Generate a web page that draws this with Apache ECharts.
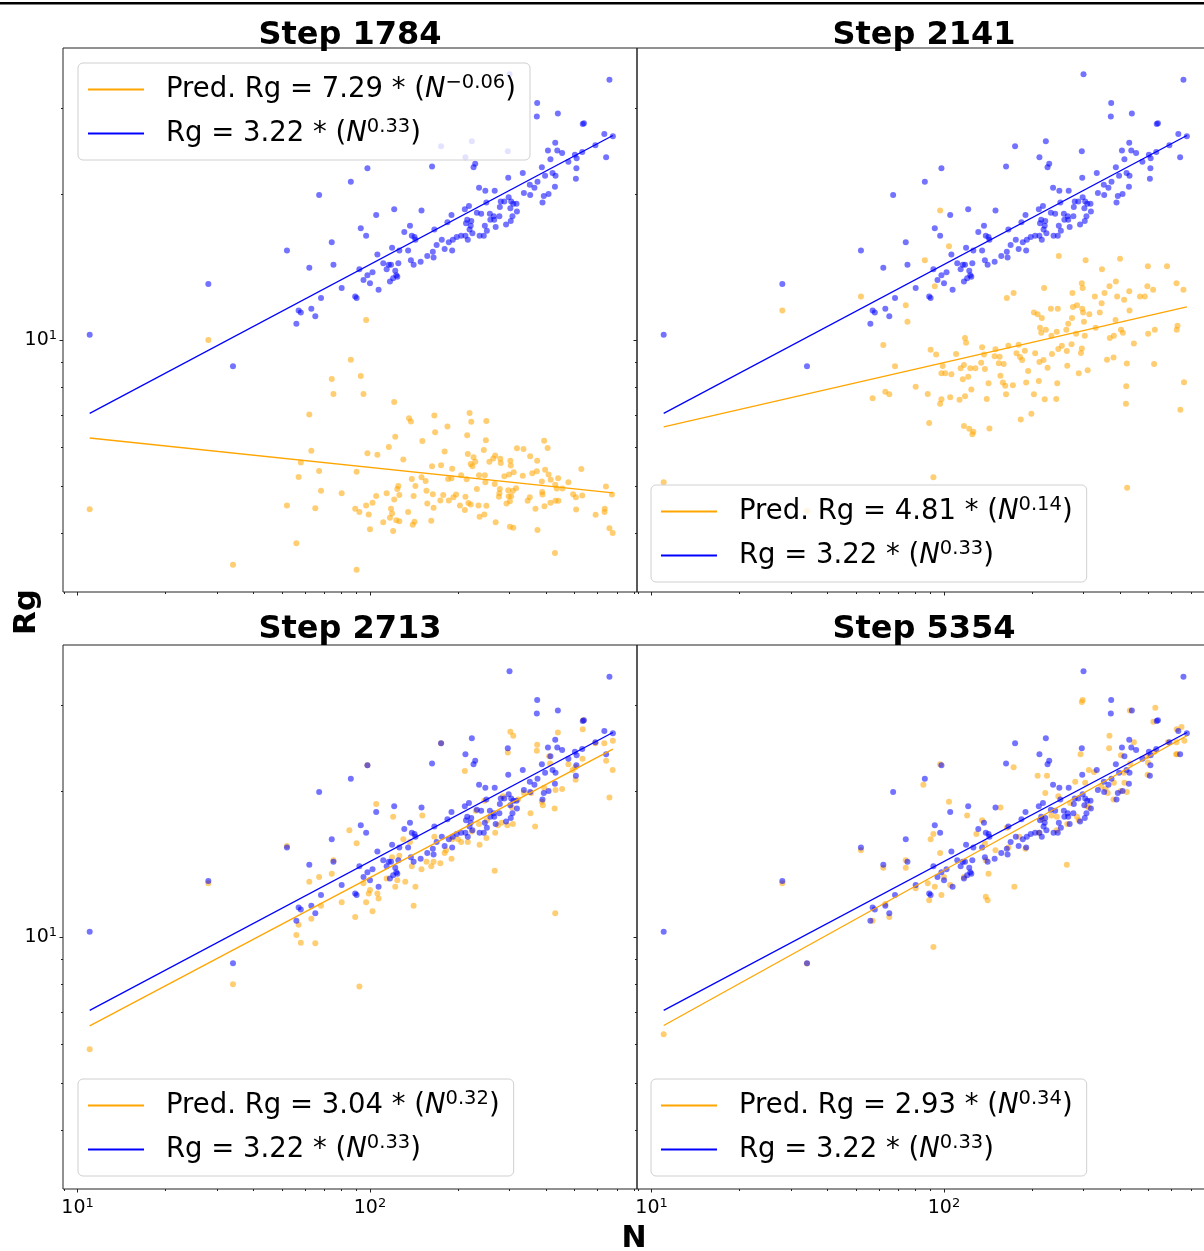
<!DOCTYPE html>
<html><head><meta charset="utf-8">
<script src="https://cdn.jsdelivr.net/npm/echarts/dist/echarts.min.js"></script>
<style>html,body{margin:0;padding:0;background:#fff;}#c{width:1204px;height:1251px;}</style>
</head><body><div id="c"></div>
<script>
// ---------- data (N, Rg) ----------
const panelTitles = ['Step 1784', 'Step 2141', 'Step 2713', 'Step 5354'];
const predCoef = ['7.29', '4.81', '3.04', '2.93'];
const predExp = ['\u22120.06', '0.14', '0.32', '0.34'];
const trueCoef = '3.22';
const trueExp = '0.33';
const xMajorTicks = [10, 100];
const xMinorTicks = [9, 20, 30, 40, 50, 60, 70, 80, 90, 200, 300, 400, 500, 600, 700, 800];
const yMajorTicks = [10];
const yMinorTicks = [4, 5, 6, 7, 8, 9, 20, 30];

const rgTrue = [[659,34.4],[300,35.3],[373,30.8],[372,28.9],[439,29.3],[534,27.9],[539,28.0],[633,26.6],[677,26.3],[590,25.2],[642,23.8],[430,25.5],[406,24.6],[437,24.6],[454,24.3],[502,24.1],[532,24.4],[477,23.3],[509,23.7],[508,22.6],[506,21.5],[387,22.7],[414,23.6],[421,22.1],[397,21.8],[431,21.8],[429,20.7],[374,21.2],[352,20.9],[365,20.6],[408,20.0],[393,19.8],[389,19.2],[353,19.9],[336,20.1],[333,22.1],[297,21.6],[296,24.5],[223,25.7],[212,23.8],[175,25.1],[229,23.1],[226,22.7],[163,22.8],[98,22.6],[86,21.2],[67,19.9],[52,15.3],[62,14.1],[74,15.9],[75,14.3],[93,17.0],[97,16.4],[105,18.1],[121,18.6],[150,18.5],[236,20.6],[248,20.3],[267,20.3],[298,19.7],[280,19.3],[288,19.3],[278,18.8],[304,19.3],[309,19.1],[317,19.1],[302,18.7],[318,18.4],[307,18.0],[303,17.6],[292,17.3],[277,18.0],[266,17.7],[250,19.2],[218,18.9],[232,18.3],[240,18.2],[257,18.2],[265,18.0],[258,17.7],[247,17.2],[251,16.8],[237,16.4],[245,16.4],[269,17.1],[222,17.6],[215,17.7],[213,17.4],[221,17.2],[219,16.9],[224,16.6],[212,16.4],[216,16.1],[205,16.4],[198,16.3],[192,16.1],[186,15.9],[176,16.1],[180,15.4],[191,15.3],[169,15.7],[166,16.9],[190,18.1],[184,17.5],[211,18.6],[139,16.4],[142,16.3],[143,16.1],[131,16.7],[137,17.2],[119,15.5],[126,15.3],[135,15.3],[138,14.6],[141,14.3],[149,14.5],[157,14.9],[164,15.2],[165,14.8],[111,14.4],[116,14.3],[118,14.3],[125,14.4],[114,14.0],[122,13.9],[124,13.5],[123,13.6],[120,13.4],[117,13.2],[106,15.0],[92,14.0],[102,13.8],[98,13.6],[95,13.3],[100,13.1],[107,12.7],[80,12.8],[89,12.3],[90,12.2],[68,12.2],[63,11.6],[65,11.2],[57,11.5],[58,11.4],[56,10.8],[11,10.25],[28,13.05],[34,8.83]];

const pred1784 = [[86,9.10],[74,8.31],[75,7.74],[93,8.43],[95,7.74],[62,7.02],[63,5.91],[58,5.59],[57,5.22],[52,4.56],[56,3.81],[67,5.37],[68,4.89],[65,4.50],[80,4.83],[89,4.49],[92,4.42],[90,3.36],[90,5.35],[98,5.84],[106,5.80],[116,6.02],[121,7.45],[122,6.32],[130,5.67],[136,6.90],[138,6.79],[151,6.19],[166,6.99],[167,6.45],[184,6.63],[219,7.07],[222,6.78],[215,6.36],[250,6.81],[249,6.21],[245,5.93],[180,5.89],[163,5.49],[175,5.52],[191,5.43],[216,5.82],[226,5.73],[229,5.61],[221,5.55],[224,5.49],[268,5.78],[264,5.70],[279,5.69],[280,5.58],[256,5.61],[302,5.64],[303,5.51],[318,5.98],[335,5.96],[353,5.76],[373,5.64],[394,6.20],[405,5.99],[397,5.40],[372,5.36],[359,5.31],[408,5.28],[415,5.15],[440,5.19],[477,5.09],[430,5.03],[435,4.94],[455,4.94],[387,5.11],[388,4.86],[389,4.80],[395,4.54],[414,4.62],[431,4.66],[441,4.66],[429,3.64],[495,4.81],[506,4.74],[532,4.78],[507,4.47],[528,5.42],[641,4.99],[672,4.80],[635,4.49],[634,4.42],[591,4.36],[659,4.09],[676,4.00],[374,4.06],[368,4.49],[352,4.74],[346,4.66],[333,5.25],[316,4.95],[308,4.89],[304,4.76],[301,4.65],[293,4.60],[298,4.76],[297,4.90],[278,4.93],[277,4.83],[276,4.75],[288,5.24],[299,5.28],[310,5.34],[301,4.12],[309,4.10],[267,5.05],[248,5.09],[247,5.26],[236,5.26],[232,4.93],[235,4.56],[250,4.55],[246,4.37],[237,4.32],[269,4.21],[221,4.58],[217,4.61],[211,4.46],[212,4.75],[205,5.26],[214,5.16],[203,4.56],[190,5.19],[185,5.17],[197,4.80],[193,4.74],[186,4.67],[178,4.79],[174,4.67],[165,4.51],[157,4.60],[164,4.81],[156,4.89],[155,5.12],[150,5.21],[139,5.17],[143,5.00],[141,4.77],[135,4.42],[142,4.22],[140,4.16],[162,4.24],[125,5.00],[124,4.93],[126,4.79],[121,4.69],[114,4.83],[118,4.49],[119,4.39],[117,4.30],[123,4.25],[126,4.23],[120,4.04],[111,4.21],[105,4.77],[102,4.62],[97,4.56],[99,4.37],[100,4.07],[11,4.48],[28,10.0],[34,3.44],[97,11.0]];

const pred2141 = [[97,18.5],[104,15.6],[86,14.6],[93,12.9],[52,12.3],[74,11.8],[75,10.9],[247,14.9],[305,14.6],[400,14.7],[347,14.0],[498,14.2],[579,14.2],[296,13.1],[298,12.8],[220,12.8],[275,12.5],[173,12.5],[164,12.2],[368,12.9],[387,13.2],[430,12.6],[496,12.9],[519,12.7],[624,13.1],[659,12.7],[354,12.5],[391,12.3],[328,12.3],[413,12.1],[468,12.3],[486,12.3],[346,11.9],[245,11.6],[232,11.6],[285,11.8],[276,11.7],[297,11.6],[299,11.4],[314,11.3],[341,11.4],[431,11.5],[274,11.1],[266,10.8],[301,10.9],[330,10.6],[386,11.0],[369,10.1],[381,10.2],[403,10.5],[409,10.35],[499,10.3],[526,10.5],[629,10.7],[625,10.5],[203,11.4],[209,11.3],[216,11.1],[213,10.6],[223,10.5],[215,10.35],[233,10.2],[243,10.4],[262,10.5],[283,10.3],[303,10.2],[253,9.73],[273,9.80],[296,9.61],[294,9.40],[246,9.58],[263,9.49],[234,9.36],[205,9.39],[219,9.09],[212,9.01],[189,9.50],[177,9.39],[180,9.78],[166,9.73],[150,9.57],[135,9.66],[137,9.34],[149,9.26],[155,9.24],[154,8.95],[160,8.92],[182,9.23],[185,9.09],[134,8.98],[138,8.71],[128,8.74],[123,8.74],[117,8.88],[114,8.74],[110,9.36],[94,9.33],[90,9.55],[99,8.84],[98,8.54],[101,8.54],[106,8.50],[118,10.1],[119,9.87],[116,8.30],[121,8.40],[156,8.44],[159,8.17],[162,8.05],[172,8.07],[142,8.14],[191,8.17],[194,8.63],[211,8.23],[226,8.77],[264,8.85],[244,8.14],[289,8.54],[310,8.66],[361,9.11],[380,9.20],[422,8.94],[446,9.83],[523,8.92],[662,8.18],[420,8.03],[419,7.39],[643,7.18],[199,7.05],[183,6.86],[143,6.57],[117,6.65],[122,6.56],[126,6.47],[125,6.39],[89,6.74],[105,7.62],[98,7.55],[97,7.39],[113,7.53],[118,7.66],[124,7.91],[140,7.56],[163,7.73],[203,7.73],[221,7.55],[242,7.56],[88,7.74],[80,8.01],[63,7.82],[65,7.73],[57,7.58],[62,9.76],[68,8.83],[92,5.21],[423,4.96],[11,5.09],[28,11.5],[34,4.44]];

const pred2713 = [[302,26.5],[309,26.0],[296,24.0],[439,26.4],[536,28.0],[534,26.8],[590,25.1],[633,25.1],[677,25.4],[676,22.1],[659,19.4],[642,23.1],[533,23.3],[504,22.4],[505,21.1],[477,22.7],[454,20.2],[431,20.1],[428,18.4],[430,11.2],[413,22.8],[410,23.6],[373,24.9],[372,24.2],[390,18.7],[387,19.0],[394,20.3],[354,18.0],[367,16.9],[336,19.8],[356,19.8],[321,19.2],[306,18.5],[308,17.1],[295,17.0],[282,17.2],[268,16.4],[274,17.0],[285,19.5],[267,13.7],[246,19.1],[251,17.4],[250,16.0],[237,15.5],[236,17.1],[230,18.2],[223,16.5],[216,15.7],[211,22.0],[205,15.7],[200,15.9],[191,15.9],[190,14.5],[180,14.9],[182,15.1],[174,14.2],[162,14.0],[165,14.3],[156,14.3],[150,13.8],[166,16.1],[151,17.8],[141,11.6],[143,12.7],[139,14.0],[137,15.7],[130,15.9],[126,14.7],[132,13.0],[124,13.1],[122,12.7],[120,17.7],[119,14.6],[114,13.2],[105,18.8],[102,11.3],[106,12.3],[107,12.0],[99,12.3],[97,11.8],[100,12.5],[95,12.9],[98,22.6],[85,16.6],[90,15.6],[89,11.0],[92,7.91],[80,11.8],[74,13.5],[75,14.4],[67,13.3],[68,11.6],[63,10.9],[65,9.71],[62,13.0],[57,10.6],[56,10.1],[58,9.73],[52,15.4],[493,22.1],[11,5.87],[34,7.99],[28,12.9],[175,25.1]];

const pred5354 = [[298,30.8],[296,30.5],[528,29.7],[432,29.3],[368,26.0],[367,24.5],[293,23.8],[173,22.4],[209,21.5],[225,21.5],[222,19.8],[281,20.9],[446,25.2],[403,23.7],[433,22.8],[363,19.8],[422,19.9],[625,26.8],[649,27.1],[624,25.2],[664,25.4],[622,23.8],[583,25.2],[494,23.6],[525,24.1],[85,20.6],[104,19.0],[120,17.8],[135,17.4],[129,16.3],[90,15.9],[92,16.3],[97,14.9],[52,15.1],[62,13.9],[74,13.9],[80,12.6],[88,12.9],[93,12.7],[89,11.9],[98,12.2],[100,13.3],[142,13.5],[139,12.1],[174,12.7],[263,14.1],[166,15.3],[164,16.8],[190,15.2],[217,17.5],[233,17.8],[243,16.6],[246,19.5],[309,18.6],[270,18.9],[285,17.7],[304,20.8],[326,21.9],[345,20.4],[381,20.8],[412,21.8],[402,20.0],[138,15.6],[150,15.1],[65,11.0],[57,10.8],[63,11.7],[28,12.9],[11,6.30],[34,8.82],[92,9.54],[141,11.9],[156,18.5],[264,17.1],[289,17.4],[313,18.5],[414,20.8],[497,21.6],[498,22.9],[520,27.8],[627,23.8],[97,22.7],[74,14.4],[105,12.8],[117,13.3],[139,14.4],[181,16.1],[211,16.4],[243,17.7],[357,20.2],[380,19.2],[313,22.1]];

// fitted power-law lines (end points)
const fitTrue = [[11, 7.06], [677, 26.4]];
const fit1784 = [[11, 6.28], [677, 4.84]];
const fit2141 = [[11, 6.62], [677, 11.7]];
const fit2713 = [[11, 6.56], [677, 24.4]];
const fit5354 = [[11, 6.57], [677, 26.0]];

// ---------- layout ----------
const X_MIN = 8.915, X_MAX = 818.7, Y_MIN = 3.023, Y_MAX = 40.0;
const FONT = '"DejaVu Sans", sans-serif';
const ORANGE = '#FFA500', BLUE = '#0000FF';
const gridPos = [
  {left: 63, top: 48}, {left: 637, top: 48},
  {left: 63, top: 645}, {left: 637, top: 645}
];
const legendPos = [
  {left: 78, top: 63}, {left: 651, top: 485},
  {left: 78, top: 1079}, {left: 651, top: 1079}
];
const predData = [pred1784, pred2141, pred2713, pred5354];
const predFit = [fit1784, fit2141, fit2713, fit5354];
const predName = i => 'Pred. Rg = ' + predCoef[i] + ' * (N^' + predExp[i] + ')';
const trueName = 'Rg = ' + trueCoef + ' * (N^' + trueExp + ')';

const tickRich = {
  b: {fontFamily: FONT, fontSize: 19, color: '#000', lineHeight: 22},
  s: {fontFamily: FONT, fontSize: 13, color: '#000', lineHeight: 13, verticalAlign: 'top'}
};
const supFmt = v => '{b|10}{s|' + Math.round(Math.log10(v)) + '}';
const tickLine = {color: '#222', width: 1};

const grid = [], xAxis = [], yAxis = [], series = [], legend = [];
for (let i = 0; i < 4; i++) {
  grid.push({left: gridPos[i].left, top: gridPos[i].top, width: 574, height: 544,
    containLabel: false, outerBoundsMode: 'none',
    show: true, borderColor: '#222', borderWidth: 1, backgroundColor: 'transparent'});
  const showX = i >= 2, showY = (i % 2) === 0;
  xAxis.push({type: 'log', logBase: 10, gridIndex: i, min: X_MIN, max: X_MAX, position: 'bottom',
    axisLine: {show: false}, splitLine: {show: false},
    axisTick: {show: true, customValues: xMajorTicks, length: 3.5, lineStyle: tickLine},
    axisLabel: {show: showX, customValues: xMajorTicks, formatter: supFmt, rich: tickRich, margin: 8}});
  xAxis.push({type: 'log', logBase: 10, gridIndex: i, min: X_MIN, max: X_MAX, position: 'bottom',
    axisLine: {show: false}, splitLine: {show: false},
    axisTick: {show: true, customValues: xMinorTicks, length: 2, lineStyle: tickLine},
    axisLabel: {show: false}});
  yAxis.push({type: 'log', logBase: 10, gridIndex: i, min: Y_MIN, max: Y_MAX, position: 'left',
    axisLine: {show: false}, splitLine: {show: false},
    axisTick: {show: true, customValues: yMajorTicks, length: 3.5, lineStyle: tickLine},
    axisLabel: {show: showY, customValues: yMajorTicks, formatter: supFmt, rich: tickRich, margin: 6}});
  yAxis.push({type: 'log', logBase: 10, gridIndex: i, min: Y_MIN, max: Y_MAX, position: 'left',
    axisLine: {show: false}, splitLine: {show: false},
    axisTick: {show: true, customValues: yMinorTicks, length: 2, lineStyle: tickLine},
    axisLabel: {show: false}});
  const ax = 2 * i;
  series.push({type: 'scatter', name: 'predPts' + i, xAxisIndex: ax, yAxisIndex: ax, data: predData[i],
    symbolSize: 6, itemStyle: {color: ORANGE, opacity: 0.55}, z: 2, silent: true});
  series.push({type: 'scatter', name: 'truePts' + i, xAxisIndex: ax, yAxisIndex: ax, data: rgTrue,
    symbolSize: 6, itemStyle: {color: BLUE, opacity: 0.55}, z: 3, silent: true});
  series.push({type: 'line', name: predName(i), xAxisIndex: ax, yAxisIndex: ax, data: predFit[i],
    symbol: 'none', showSymbol: false, color: ORANGE, itemStyle: {color: ORANGE},
    lineStyle: {color: ORANGE, width: 1.3}, z: 4, silent: true});
  series.push({type: 'line', name: trueName, xAxisIndex: ax, yAxisIndex: ax, data: fitTrue,
    symbol: 'none', showSymbol: false, color: BLUE, itemStyle: {color: BLUE},
    lineStyle: {color: BLUE, width: 1.3}, z: 5, silent: true});
  legend.push({orient: 'vertical', left: legendPos[i].left, top: legendPos[i].top,
    data: [predName(i), trueName], selectedMode: false, icon: 'rect',
    itemWidth: 56, itemHeight: 2, itemGap: 11, padding: [10, 14, 10, 10],
    backgroundColor: 'rgba(255,255,255,0.8)', borderColor: '#d0d0d0', borderWidth: 1, borderRadius: 5,
    textStyle: {fontFamily: FONT, fontSize: 27.5, color: '#000', lineHeight: 33, padding: [0, 0, 0, 17],
      rich: {
        it: {fontFamily: FONT, fontSize: 27.5, fontStyle: 'italic', color: '#000', lineHeight: 33},
        sup: {fontFamily: FONT, fontSize: 19.5, color: '#000', lineHeight: 19, verticalAlign: 'top'}
      }},
    formatter: name => {
      if (name === trueName) return 'Rg = ' + trueCoef + ' * ({it|N}{sup|' + trueExp + '})';
      const k = predCoef.findIndex((c, j) => predName(j) === name);
      return 'Pred. Rg = ' + predCoef[k] + ' * ({it|N}{sup|' + predExp[k] + '})';
    }});
}

const titleCenters = [[350, 36], [924, 36], [350, 630], [924, 630]];
const graphic = [
  {type: 'rect', shape: {x: 0, y: 2, width: 1204, height: 2.5}, style: {fill: '#000'}, silent: true},
  {type: 'text', x: 634, y: 1239, style: {text: 'N', fontFamily: FONT, fontSize: 30, fontWeight: 'bold',
    fill: '#000', textAlign: 'center', textVerticalAlign: 'middle'}},
  {type: 'text', x: 27, y: 612, rotation: Math.PI / 2, style: {text: 'Rg', fontFamily: FONT, fontSize: 31,
    fontWeight: 'bold', fill: '#000', textAlign: 'center', textVerticalAlign: 'middle'}}
];
panelTitles.forEach((t, i) => graphic.push({type: 'text', x: titleCenters[i][0], y: titleCenters[i][1],
  style: {text: t, fontFamily: FONT, fontSize: 32, fontWeight: 'bold', fill: '#000',
    textAlign: 'center', textVerticalAlign: 'middle'}}));

const chart = echarts.init(document.getElementById('c'), null, {renderer: 'canvas'});
chart.setOption({animation: false, backgroundColor: '#fff', textStyle: {fontFamily: FONT},
  grid, xAxis, yAxis, series, legend, graphic});
</script></body></html>
